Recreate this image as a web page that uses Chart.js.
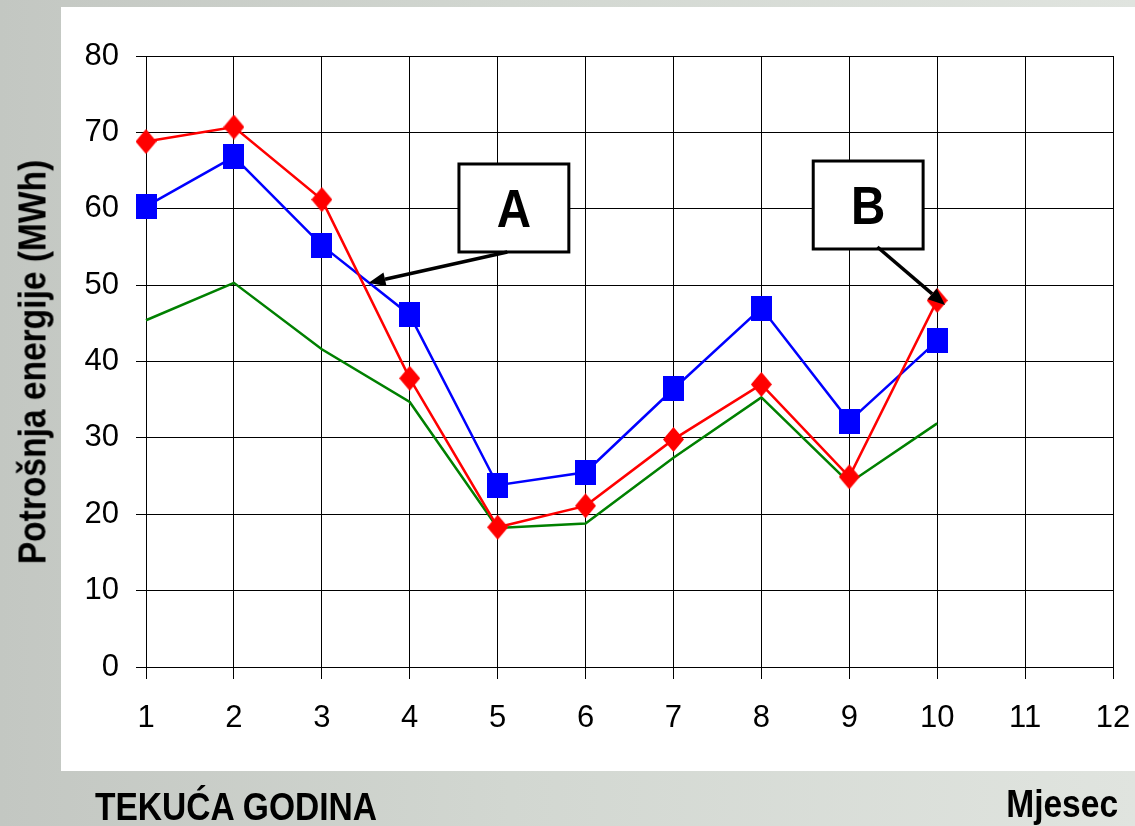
<!DOCTYPE html>
<html><head><meta charset="utf-8">
<script src="https://cdn.jsdelivr.net/npm/chart.js@4/dist/chart.umd.min.js"></script>
<style>
html,body{margin:0;padding:0;}
body{width:1135px;height:826px;position:relative;overflow:hidden;background:linear-gradient(90deg,#c3c7c2 0%,#d2d7d1 45%,#e0e4df 100%);font-family:"Liberation Sans",Arial,sans-serif;}
#panel{position:absolute;left:61px;top:7px;width:1074px;height:764px;background:#fff;}
#c{position:absolute;left:0;top:0;}
.lbl{position:absolute;font-weight:bold;color:#000;white-space:nowrap;line-height:1;}
#ytitle{left:32px;top:362px;font-size:39px;transform:translate(-50%,-50%) rotate(-90deg) scaleX(0.86);}
#xleft{left:95px;top:787px;font-size:39px;transform-origin:left center;transform:scaleX(0.86);}
#xright{right:17px;top:784px;font-size:39px;transform-origin:right center;transform:scaleX(0.86);}
</style></head>
<body>
<div id="panel"></div>
<canvas id="c" width="1135" height="826"></canvas>
<div class="lbl" id="ytitle">Potrošnja energije (MWh)</div>
<div class="lbl" id="xleft">TEKUĆA GODINA</div>
<div class="lbl" id="xright">Mjesec</div>
<script>
// Data
const months = [1,2,3,4,5,6,7,8,9,10];
const seriesRed   = [68.8,70.7,61.2,37.8,18.3,21.1,29.8,37.0,24.9,48.0];
const seriesBlue  = [60.3,66.8,55.2,46.1,23.8,25.5,36.4,47.0,32.2,42.7];
const seriesGreen = [45.4,50.3,41.6,34.7,18.2,18.8,27.4,35.3,24.1,31.9];
const xTicks = [1,2,3,4,5,6,7,8,9,10,11,12];
const yTicks = [0,10,20,30,40,50,60,70,80];
const annotationLabels = ['A','B'];

function makeSquare(w,h,color){
  const c=document.createElement('canvas'); c.width=w; c.height=h;
  const g=c.getContext('2d'); g.fillStyle=color; g.fillRect(0,0,w,h); return c;
}
function makeDiamond(w,h,color){
  const c=document.createElement('canvas'); c.width=w; c.height=h;
  const g=c.getContext('2d'); g.fillStyle=color; g.beginPath();
  g.moveTo(w/2,0); g.lineTo(w,h/2); g.lineTo(w/2,h); g.lineTo(0,h/2); g.closePath(); g.fill(); return c;
}
const squareImg = makeSquare(21,25,'#0000ff');
const diamondImg = makeDiamond(21,25,'#ff0000');

const toPts = arr => months.map((m,i)=>({x:m,y:arr[i]}));

const annPlugin = {
  id:'ann',
  afterDatasetsDraw(chart, args, opts){
    const {ctx, scales:{x,y}} = chart;
    opts.items.forEach(it=>{
      const x1=x.getPixelForValue(it.box[0]), x2=x.getPixelForValue(it.box[1]);
      const y1=y.getPixelForValue(it.box[2]), y2=y.getPixelForValue(it.box[3]);
      ctx.save();
      ctx.fillStyle='#fff'; ctx.fillRect(x1,y1,x2-x1,y2-y1);
      ctx.lineWidth=3; ctx.strokeStyle='#000'; ctx.strokeRect(x1,y1,x2-x1,y2-y1);
      ctx.save();
      ctx.translate((x1+x2)/2,(y1+y2)/2);
      ctx.scale(0.88,1);
      ctx.font='bold 54px "Liberation Sans", Arial, sans-serif';
      ctx.fillStyle='#000'; ctx.textAlign='center'; ctx.textBaseline='alphabetic';
      ctx.fillText(it.label,0,19);
      ctx.restore();
      // arrow
      const sx=x.getPixelForValue(it.arrow[0]), sy=y.getPixelForValue(it.arrow[1]);
      const tx=x.getPixelForValue(it.arrow[2]), ty=y.getPixelForValue(it.arrow[3]);
      const ang=Math.atan2(ty-sy,tx-sx), L=17, W=7;
      const bx=tx-L*Math.cos(ang), by=ty-L*Math.sin(ang);
      ctx.beginPath(); ctx.moveTo(sx,sy); ctx.lineTo(bx,by);
      ctx.lineWidth=3.5; ctx.strokeStyle='#000'; ctx.stroke();
      ctx.beginPath(); ctx.moveTo(tx,ty);
      ctx.lineTo(bx+W*Math.sin(ang), by-W*Math.cos(ang));
      ctx.lineTo(bx-W*Math.sin(ang), by+W*Math.cos(ang));
      ctx.closePath(); ctx.fillStyle='#000'; ctx.fill();
      ctx.restore();
    });
  }
};

const tickFont = {family:'"Liberation Sans", Arial, sans-serif', size:31};

new Chart(document.getElementById('c'), {
  type:'line',
  data:{datasets:[
    {label:'Red', data:toPts(seriesRed), borderColor:'#ff0000', backgroundColor:'#ff0000', borderWidth:2.5, pointStyle:diamondImg, tension:0, clip:false},
    {label:'Blue', data:toPts(seriesBlue), borderColor:'#0000ff', backgroundColor:'#0000ff', borderWidth:2.5, pointStyle:squareImg, tension:0, clip:false},
    {label:'Green', data:toPts(seriesGreen), borderColor:'#008000', backgroundColor:'#008000', borderWidth:2.5, pointRadius:0, tension:0, clip:false}
  ]},
  options:{
    responsive:false, animation:false, devicePixelRatio:1,
    layout:{padding:{top:56,right:22,left:0,bottom:0}},
    plugins:{legend:{display:false}, tooltip:{enabled:false},
      ann:{items:[
        {label:annotationLabels[0], box:[4.56,5.81,65.86,54.34], arrow:[5.11,54.34,3.53,50.28]},
        {label:annotationLabels[1], box:[8.59,9.84,66.25,54.73], arrow:[9.32,54.99,10.09,47.40]}
      ]}},
    scales:{
      x:{type:'linear', min:1, max:12,
        afterFit(s){s.height=159; s.paddingLeft=0; s.paddingRight=0;},
        afterBuildTicks(s){s.ticks=xTicks.map(v=>({value:v}));},
        ticks:{font:tickFont, color:'#000', padding:21, maxRotation:0, autoSkip:false},
        grid:{color:'#000', lineWidth:1, tickLength:12},
        border:{color:'#000', width:1}},
      y:{min:0, max:80,
        afterFit(s){s.width=146; s.paddingTop=0; s.paddingBottom=0;},
        afterBuildTicks(s){s.ticks=yTicks.map(v=>({value:v}));},
        ticks:{font:tickFont, color:'#000', padding:17},
        grid:{color:'#000', lineWidth:1, tickLength:10},
        border:{color:'#000', width:1}}
    }
  },
  plugins:[annPlugin]
});
</script>
</body></html>
